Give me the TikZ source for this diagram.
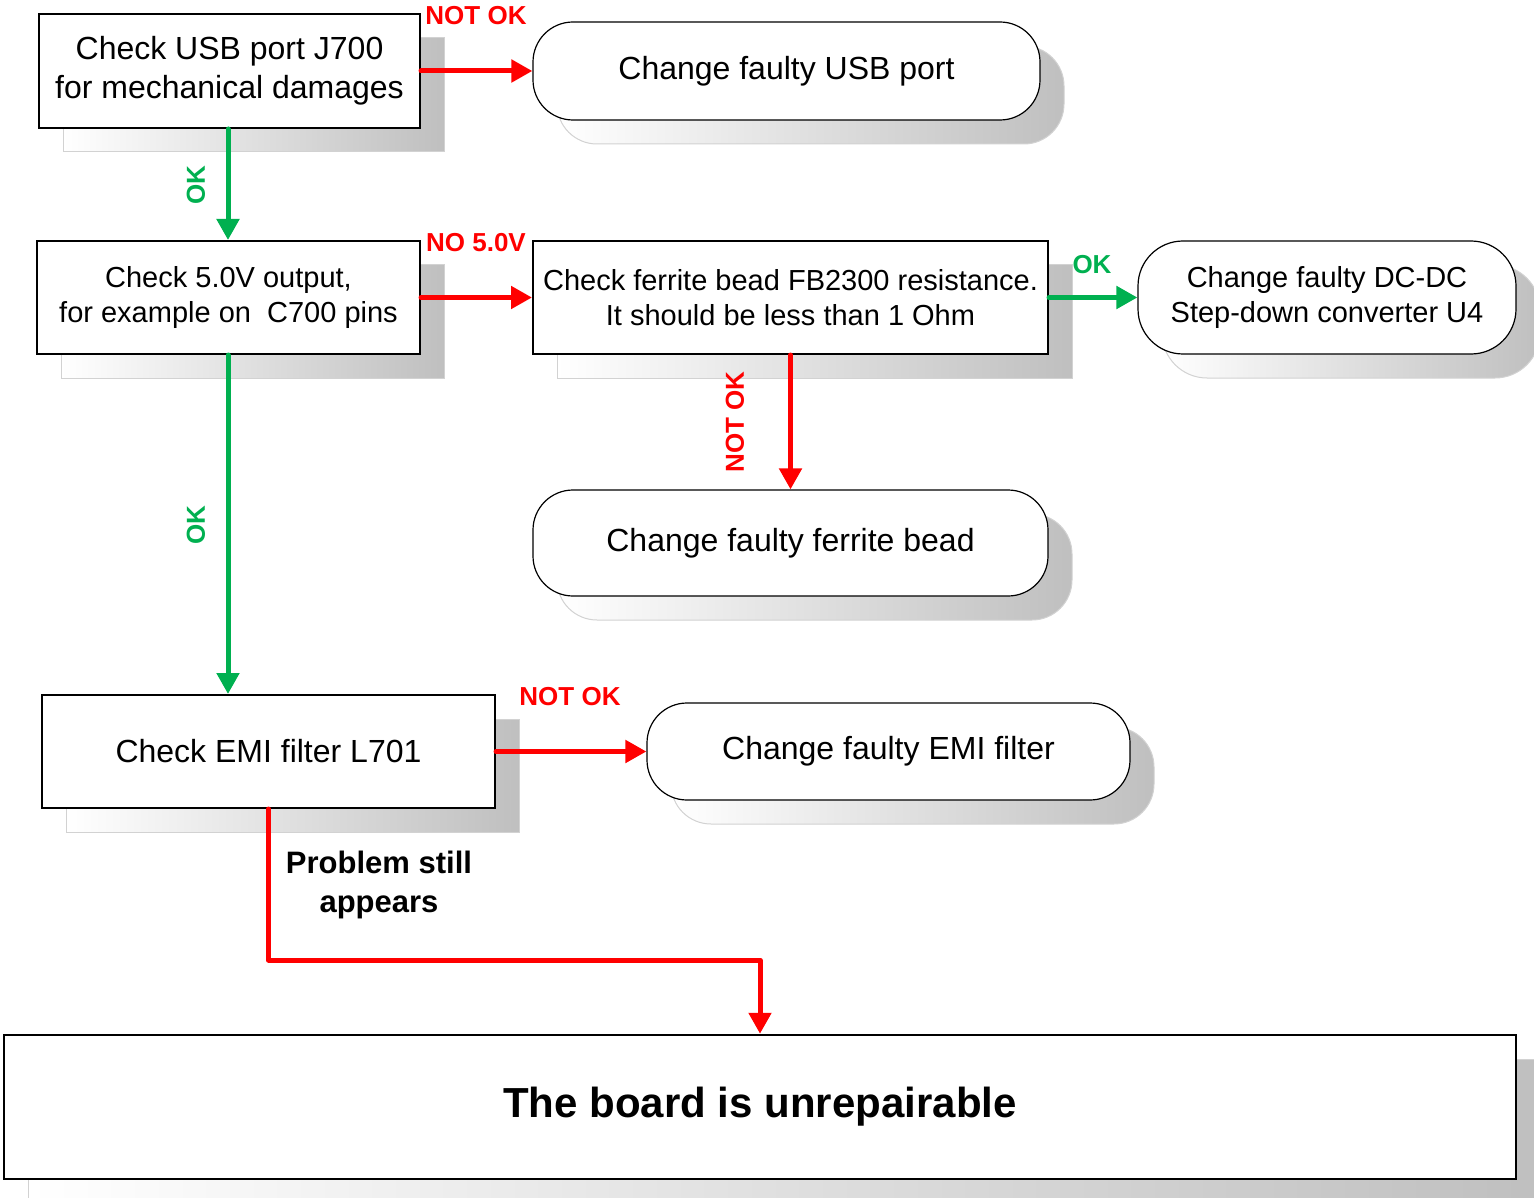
\documentclass[tikz,border=0pt]{standalone}
\usepackage{fontspec}
\setmainfont{Liberation Sans}
\usetikzlibrary{arrows.meta,shadows}
\definecolor{okgreen}{RGB}{0,176,80}
\definecolor{nokred}{RGB}{255,0,0}
\begin{document}
\begin{tikzpicture}[x=1pt,y=-1pt,
  box/.style={draw=black, line width=2pt, fill=white, align=center, inner sep=0pt,
    font=\fontsize{32}{39}\selectfont,
    general shadow={shadow xshift=24pt, shadow yshift=-24pt, left color=white,
      right color=gray!50, draw=gray!35, line width=1pt}},
  sbox/.style={box, font=\fontsize{29}{35}\selectfont},
  rbox/.style={box, rounded corners=40pt, line width=1.2pt},
  srbox/.style={rbox, font=\fontsize{29}{35}\selectfont},
  lab/.style={font=\fontsize{26}{30}\selectfont\bfseries, inner sep=0pt},
  okarrow/.style={draw=okgreen, line width=5pt, line cap=round, line join=round,
    -{Triangle[length=21pt,width=22pt]}},
  noarrow/.style={draw=nokred, line width=5pt, line cap=round, line join=round,
    -{Triangle[length=21pt,width=22pt]}}
]
\useasboundingbox (0,0) rectangle (1534,1198);

\node[box, minimum width=381pt, minimum height=114pt] (A) at (229.5,71)
  {Check USB port J700\\for mechanical damages};
\node[rbox, minimum width=507pt, minimum height=98pt] (B) at (786.5,71)
  {Change faulty USB port};
\node[sbox, minimum width=383pt, minimum height=113pt] (C) at (228.5,297.5)
  {Check 5.0V output,\\for example on\ \ C700 pins};
\node[sbox, minimum width=515pt, minimum height=113pt] (D) at (790.5,297.5)
  {Check ferrite bead FB2300 resistance.\\It should be less than 1 Ohm};
\node[srbox, rounded corners=45pt, minimum width=378pt, minimum height=113pt] (E) at (1327,297.5)
  {Change faulty DC-DC\\Step-down converter U4};
\node[rbox, minimum width=515pt, minimum height=106pt] (F) at (790.5,543)
  {Change faulty ferrite bead};
\node[box, minimum width=453pt, minimum height=113pt] (G) at (268.5,751.5)
  {Check EMI filter L701};
\node[rbox, minimum width=483pt, minimum height=97pt] (H) at (888.5,751.5)
  {Change faulty EMI filter};
\node[box, line width=2.5pt, minimum width=1512pt, minimum height=144pt,
  font=\fontsize{42}{50}\selectfont\bfseries] (I) at (760,1107)
  {The board is unrepairable};

\coordinate (bend) at (760,960);

\draw[noarrow] (A.east) -- (B.west);
\draw[okarrow] (A.south -| 228,0) -- (C.north -| 228,0);
\draw[noarrow] (C.east) -- (D.west);
\draw[okarrow] (D.east) -- (E.west);
\draw[noarrow] (D.south) -- (F.north);
\draw[okarrow] (C.south -| 228,0) -- (G.north -| 228,0);
\draw[noarrow] (G.east) -- (H.west);
\draw[noarrow] (G.south) |- (bend) -- (I.north);

\node[lab, text=nokred] (l1) at (476,16) {NOT OK};
\node[lab, text=okgreen, rotate=90] (l2) at (196,185) {OK};
\node[lab, text=nokred] (l3) at (476,243) {NO 5.0V};
\node[lab, text=okgreen] (l4) at (1092,265) {OK};
\node[lab, text=nokred, rotate=90] (l5) at (735,422) {NOT OK};
\node[lab, text=okgreen, rotate=90] (l6) at (196,525) {OK};
\node[lab, text=nokred] (l7) at (570,697) {NOT OK};
\node[font=\fontsize{31}{39}\selectfont\bfseries, align=center, inner sep=0pt] (l8) at (379,885)
  {Problem still\\appears};
\end{tikzpicture}
\end{document}
